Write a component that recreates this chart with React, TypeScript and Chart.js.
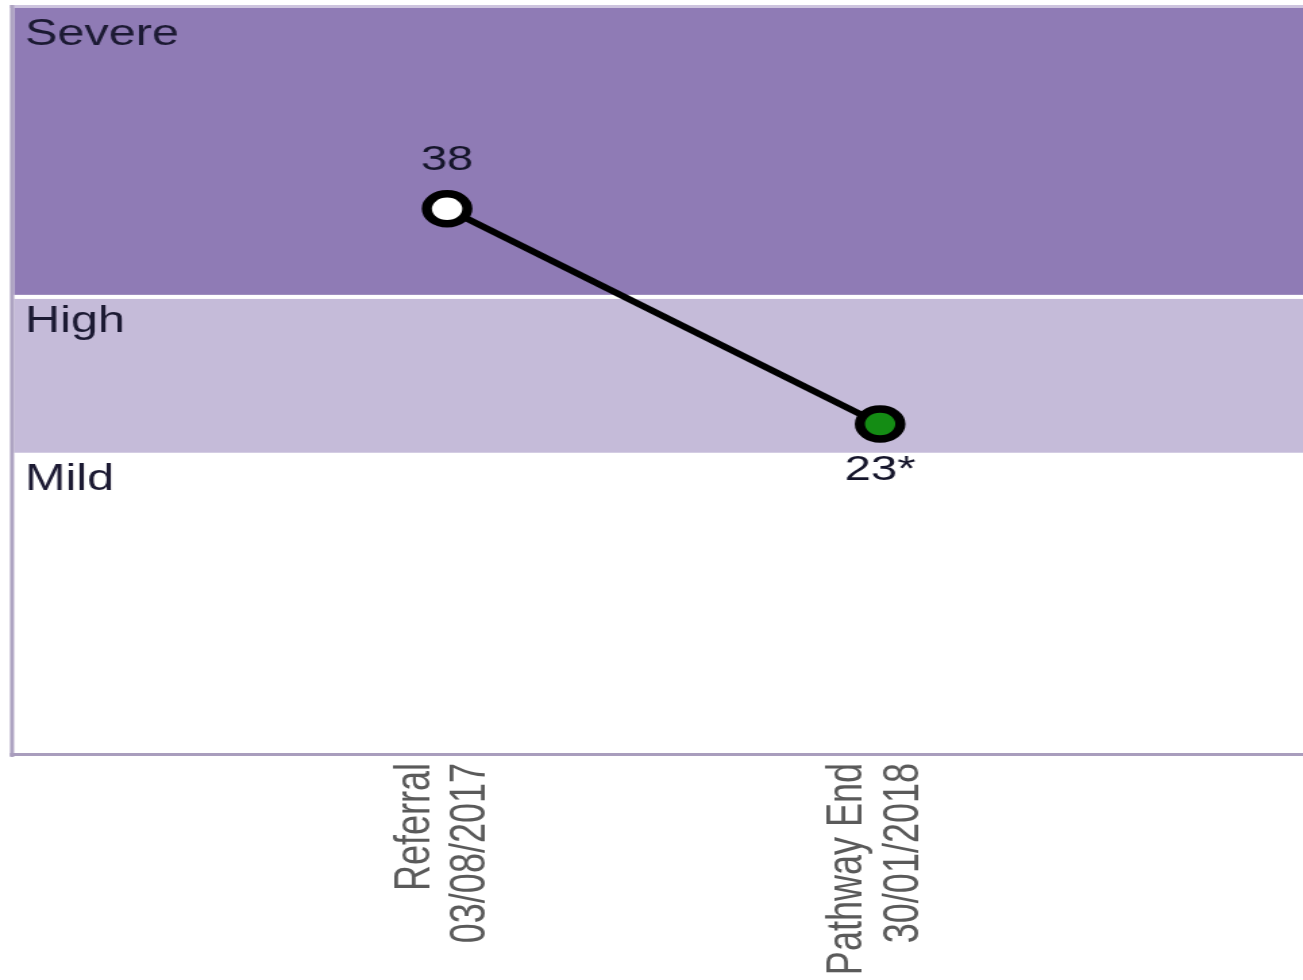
import { useEffect, useRef } from 'react';
import { Chart, registerables } from 'chart.js';

Chart.register(...registerables);

// ---- data ----
const visitLabels = ['Referral', 'Pathway End'];
const visitDates = ['03/08/2017', '30/01/2018'];
const visitIndex = [1, 2];
const scores = [38, 23];
const scoreLabels = ['38', '23*'];
const pointFill = ['#ffffff', '#148c14'];

const bandNames = ['Mild', 'High', 'Severe'];
const bandFrom = [0, 21, 32];
const bandTo = [21, 32, 52];
const bandColors = ['#ffffff', '#c5bbd9', '#8f7bb5'];

const yMin = 0;
const yMax = 52;
const xMin = 0;
const xMax = 3;

// ---- presentation ----
const SX = 1.35; // horizontal stretch of the picture
const CW = 985;
const CH = 980;
const FONT = '"Liberation Sans", Arial, sans-serif';

const bandsPlugin = {
  id: 'bands',
  beforeDatasetsDraw(chart: any) {
    const { ctx, chartArea: a, scales } = chart;
    const y = scales.y;
    ctx.save();
    bandFrom.forEach((f: number, i: number) => {
      const top = y.getPixelForValue(bandTo[i]);
      const bot = y.getPixelForValue(f);
      ctx.fillStyle = bandColors[i];
      ctx.fillRect(a.left, top, a.right - a.left, bot - top);
    });
    const sep = y.getPixelForValue(bandFrom[2]);
    ctx.fillStyle = '#ffffff';
    ctx.fillRect(a.left, sep, a.right - a.left, 4);

    ctx.font = `36px ${FONT}`;
    ctx.fillStyle = '#1c1a33';
    ctx.textAlign = 'left';
    ctx.textBaseline = 'alphabetic';
    bandNames.forEach((n: string, i: number) => {
      const top = y.getPixelForValue(bandTo[i]);
      ctx.fillText(n, a.left + 8, top + 37);
    });

    // frame
    ctx.fillStyle = '#cdc4de';
    ctx.fillRect(a.left - 3, a.top - 3, a.right - a.left + 3, 3);
    ctx.fillStyle = '#aea4c2';
    ctx.fillRect(a.left - 3, a.top - 3, 3, a.bottom - a.top + 6);
    ctx.fillStyle = '#a99dbd';
    ctx.fillRect(a.left - 3, a.bottom - 1, a.right - a.left + 3, 3);
    ctx.restore();
  },
};

const valueLabelPlugin = {
  id: 'valueLabels',
  afterDatasetsDraw(chart: any) {
    const { ctx } = chart;
    const meta = chart.getDatasetMeta(0);
    ctx.save();
    ctx.font = `35px ${FONT}`;
    ctx.fillStyle = '#15152a';
    ctx.textAlign = 'center';
    ctx.textBaseline = 'alphabetic';
    meta.data.forEach((pt: any, i: number) => {
      const v = scores[i];
      const prev = scores[i - 1];
      const next = scores[i + 1];
      const above = (prev === undefined || v >= prev) && (next === undefined || v >= next);
      ctx.fillText(scoreLabels[i], pt.x, above ? pt.y - 39 : pt.y + 56);
    });
    ctx.restore();
  },
};

export default function App() {
  const ref = useRef<HTMLCanvasElement | null>(null);

  useEffect(() => {
    if (!ref.current) return;
    const chart = new Chart(ref.current, {
      type: 'line',
      data: {
        datasets: [
          {
            data: visitIndex.map((x, i) => ({ x, y: scores[i] })),
            borderColor: '#000000',
            borderWidth: 6,
            pointRadius: 15,
            pointBorderWidth: 7.5,
            pointBorderColor: '#000000',
            pointBackgroundColor: pointFill,
            pointHoverRadius: 15,
            fill: false,
            tension: 0,
            clip: false,
          },
        ],
      },
      options: {
        responsive: false,
        animation: false,
        devicePixelRatio: 1,
        layout: { autoPadding: false, padding: { left: 10.4, right: 12.5, top: 8, bottom: 0 } },
        plugins: {
          legend: { display: false },
          tooltip: { enabled: false },
          title: { display: false },
        },
        scales: {
          x: {
            type: 'linear',
            min: xMin,
            max: xMax,
            grid: { display: false, drawTicks: false },
            border: { display: false },
            afterBuildTicks: (scale: any) => {
              scale.ticks = visitIndex.map((v) => ({ value: v }));
            },
            afterFit: (scale: any) => {
              scale.height = 226;
            },
            ticks: {
              autoSkip: false,
              minRotation: 90,
              maxRotation: 90,
              padding: 9,
              labelOffset: -23.5,
              color: '#5a5a5a',
              font: { family: FONT, size: 36, lineHeight: 1.15 },
              callback: (_v: any, i: number) => [visitLabels[i], visitDates[i]],
            },
          },
          y: {
            display: false,
            min: yMin,
            max: yMax,
          },
        },
      },
      plugins: [bandsPlugin, valueLabelPlugin],
    } as any);
    return () => chart.destroy();
  }, []);

  return (
    <div
      style={{
        position: 'fixed',
        left: 0,
        top: 0,
        width: 1303,
        height: 980,
        overflow: 'hidden',
        background: '#ffffff',
      }}
    >
      <canvas
        ref={ref}
        width={CW}
        height={CH}
        style={{ width: `${CW * SX}px`, height: `${CH}px`, display: 'block' }}
      />
    </div>
  );
}
